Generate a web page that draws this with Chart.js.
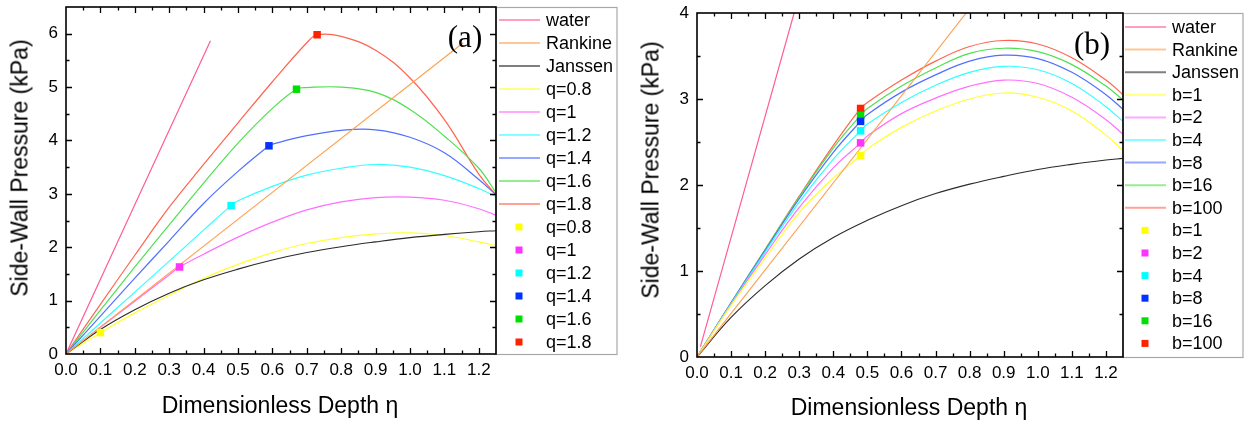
<!DOCTYPE html>
<html>
<head>
<meta charset="utf-8">
<script src="https://cdn.jsdelivr.net/npm/chart.js@4.4.0/dist/chart.umd.min.js"></script>
<style>
  html, body { margin:0; padding:0; background:#fff; }
  body { width:1256px; height:421px; overflow:hidden; position:relative; font-family:"Liberation Sans", Arial, sans-serif; color:#000; }
  .cw { position:absolute; top:0; width:628px; height:421px; }
  #wa { left:0; } #wb { left:628px; }
  .yt { position:absolute; font-size:23px; line-height:1; white-space:nowrap; transform:translate(-50%,-50%) rotate(-90deg); }
  .xt { position:absolute; font-size:23px; line-height:1; white-space:nowrap; transform:translate(-50%,-50%); }
  .pl { position:absolute; font-family:"Liberation Serif","Times New Roman",serif; font-size:31px; line-height:1; white-space:nowrap; transform:translate(-50%,-50%); }
</style>
</head>
<body>
<div class="cw" id="wa"><canvas id="ca" width="628" height="421"></canvas></div>
<div class="cw" id="wb"><canvas id="cb" width="628" height="421"></canvas></div>
<div class="yt" style="left:20px;top:168px;">Side-Wall Pressure (kPa)</div>
<div class="xt" style="left:280px;top:405px;">Dimensionless Depth η</div>
<div class="pl" style="left:465px;top:36px;">(a)</div>
<div class="yt" style="left:651px;top:170px;">Side-Wall Pressure (kPa)</div>
<div class="xt" style="left:909px;top:407px;">Dimensionless Depth η</div>
<div class="pl" style="left:1092px;top:43px;">(b)</div>
<script>
// ---------------- data ----------------
const eta = [0, 0.1, 0.2, 0.3, 0.4, 0.5, 0.6, 0.7, 0.8, 0.9, 1.0, 1.1, 1.2, 1.25];
const janssenP = [0, 0.46, 0.83, 1.14, 1.39, 1.59, 1.76, 1.9, 2.01, 2.1, 2.18, 2.24, 2.29, 2.31];

// panel (a)
const waterEtaA = [0, 0.42];
const waterPA = [0, 5.87];
const rankineEtaA = [0, 1.155];
const rankinePA = [0, 5.83];
const qLabels = ['q=0.8', 'q=1', 'q=1.2', 'q=1.4', 'q=1.6', 'q=1.8'];
const qMarkerEta = [0.1, 0.33, 0.48, 0.59, 0.67, 0.73];
const qMarkerP = [0.4, 1.63, 2.78, 3.9, 4.96, 5.98];
const q08P = [0, 0.4, 0.77, 1.1, 1.42, 1.68, 1.9, 2.07, 2.18, 2.25, 2.27, 2.22, 2.1, 2.03];
const q10P = [0, 0.5, 0.99, 1.48, 1.87, 2.19, 2.47, 2.7, 2.85, 2.93, 2.94, 2.88, 2.72, 2.6];
const q12P = [0, 0.58, 1.16, 1.74, 2.32, 2.87, 3.14, 3.35, 3.48, 3.55, 3.5, 3.34, 3.1, 2.95];
const q14P = [0, 0.71, 1.42, 2.12, 2.82, 3.42, 3.93, 4.09, 4.19, 4.2, 4.06, 3.77, 3.27, 2.98];
const q16P = [0, 0.82, 1.63, 2.42, 3.2, 3.95, 4.6, 4.99, 5.0, 4.9, 4.58, 4.08, 3.48, 3.02];
const q18P = [0, 0.93, 1.85, 2.75, 3.55, 4.33, 5.1, 5.83, 5.95, 5.69, 5.17, 4.39, 3.37, 2.98];
const xTicksA = { min: 0, max: 1.25, step: 0.1 };
const yTicksA = { min: 0, max: 6.5, step: 1 };

// panel (b)
const waterEtaB = [0.01, 0.285];
const waterPB = [0.12, 4.0];
const rankineEtaB = [0, 0.79];
const rankinePB = [0, 4.0];
const bLabels = ['b=1', 'b=2', 'b=4', 'b=8', 'b=16', 'b=100'];
const bMarkerEta = [0.48, 0.48, 0.48, 0.48, 0.48, 0.48];
const bMarkerP = [2.34, 2.49, 2.63, 2.74, 2.81, 2.89];
const b1P   = [0, 0.6, 1.15, 1.68, 2.08, 2.42, 2.67, 2.86, 3.0, 3.07, 3.02, 2.86, 2.58, 2.4];
const b2P   = [0, 0.61, 1.19, 1.74, 2.2, 2.57, 2.83, 3.01, 3.15, 3.22, 3.18, 3.02, 2.76, 2.59];
const b4P   = [0, 0.62, 1.22, 1.8, 2.3, 2.71, 2.96, 3.16, 3.31, 3.38, 3.34, 3.18, 2.91, 2.74];
const b8P   = [0, 0.63, 1.24, 1.84, 2.38, 2.82, 3.08, 3.28, 3.44, 3.51, 3.47, 3.31, 3.05, 2.88];
const b16P  = [0, 0.63, 1.25, 1.86, 2.43, 2.89, 3.15, 3.36, 3.53, 3.59, 3.55, 3.4, 3.15, 2.99];
const b100P = [0, 0.63, 1.25, 1.87, 2.46, 2.96, 3.22, 3.44, 3.61, 3.68, 3.64, 3.48, 3.22, 3.05];
const xTicksB = { min: 0, max: 1.25, step: 0.1 };
const yTicksB = { min: 0, max: 4, step: 1 };

// ---------------- styles ----------------
const lineColors = ['#ffff33', '#ff70ff', '#33ffff', '#5070ff', '#4fe04f', '#ff6450'];
const markColors = ['#ffff00', '#ff33ff', '#00ffff', '#0033ff', '#00e000', '#ff2200'];
const FONT = "'Liberation Sans', Arial, sans-serif";

function pts(xs, ys) { return xs.map((v, i) => ({ x: v, y: ys[i] })); }
function withMarker(xs, ys, mx, my) {
  const p = pts(xs, ys).filter(o => Math.abs(o.x - mx) > 1e-9);
  p.push({ x: mx, y: my });
  p.sort((a, b) => a.x - b.x);
  return p;
}
function lineDs(label, data, color, w) {
  return { label, data, showLine: true, borderColor: color, backgroundColor: color, borderWidth: w || 1.2,
           pointRadius: 0, pointHoverRadius: 0, tension: 0.4, order: 1 };
}
function markDs(label, x, y, color) {
  return { label, data: [{ x, y }], showLine: false, pointStyle: 'rect', pointRadius: 5.3,
           backgroundColor: color, borderColor: color, borderWidth: 0, order: 0 };
}
function buildDatasets(water, rankine, labels, series, mEta, mP) {
  const ds = [
    lineDs('water', water, '#ff5c9a'),
    lineDs('Rankine', rankine, '#ffa050'),
    lineDs('Janssen', pts(eta, janssenP), '#2a2a2a', 1.1)
  ];
  series.forEach((s, i) => ds.push(lineDs(labels[i], withMarker(eta, s, mEta[i], mP[i]), lineColors[i])));
  labels.forEach((l, i) => ds.push(markDs(l, mEta[i], mP[i], markColors[i])));
  return ds;
}

// plugin: boxed frame with inward major/minor ticks + legend box
const panelPlugin = {
  id: 'panel',
  afterDraw(chart, args, o) {
    const { ctx, chartArea: a, scales: { x, y } } = chart;
    ctx.save();
    ctx.strokeStyle = '#a8a8a8'; ctx.lineWidth = 1.2;
    ctx.strokeRect(a.right, a.top + 0.5, o.legendW, a.bottom - a.top);
    const vals = (s) => {
      const major = s.ticks.map(t => t.value);
      const step = major[1] - major[0];
      const minor = [];
      major.forEach(v => { const m = v + step / 2; if (m < s.max - 1e-9) minor.push(m); });
      return { major, minor };
    };
    ctx.strokeStyle = '#000'; ctx.lineWidth = 1.3;
    ctx.beginPath();
    const tx = vals(x), ty = vals(y);
    const doX = (list, L) => list.forEach(v => {
      if (v <= x.min + 1e-9 || v >= x.max - 1e-9) return;
      const p = Math.round(x.getPixelForValue(v)) + 0.5;
      ctx.moveTo(p, a.bottom); ctx.lineTo(p, a.bottom - L);
      ctx.moveTo(p, a.top); ctx.lineTo(p, a.top + L);
    });
    const doY = (list, L) => list.forEach(v => {
      if (v <= y.min + 1e-9 || v >= y.max - 1e-9) return;
      const p = Math.round(y.getPixelForValue(v)) + 0.5;
      ctx.moveTo(a.left, p); ctx.lineTo(a.left + L, p);
      ctx.moveTo(a.right, p); ctx.lineTo(a.right - L, p);
    });
    doX(tx.major, 6); doX(tx.minor, 3.5); doY(ty.major, 6); doY(ty.minor, 3.5);
    ctx.stroke();
    ctx.lineWidth = 1.6;
    ctx.strokeRect(a.left, a.top, a.right - a.left, a.bottom - a.top);
    ctx.font = '18px ' + FONT; ctx.textBaseline = 'middle'; ctx.textAlign = 'left';
    chart.data.datasets.forEach((ds, i) => {
      const yy = a.top + o.firstY + i * o.gap;
      if (ds.showLine) {
        ctx.save(); ctx.globalAlpha = 0.6; ctx.strokeStyle = ds.borderColor; ctx.lineWidth = 2;
        ctx.beginPath(); ctx.moveTo(a.right + o.lx0, yy); ctx.lineTo(a.right + o.lx1, yy); ctx.stroke();
        ctx.restore();
      } else {
        ctx.fillStyle = ds.backgroundColor;
        ctx.fillRect(a.right + o.sqX - 3.5, yy - 3.5, 7, 7);
      }
      ctx.fillStyle = '#000';
      ctx.fillText(ds.label, a.right + o.textX, yy + 1);
    });
    ctx.restore();
  }
};

function makeChart(id, datasets, xt, yt, lay, legend) {
  return new Chart(document.getElementById(id), {
    type: 'scatter',
    data: { datasets },
    plugins: [panelPlugin],
    options: {
      responsive: false, animation: false, devicePixelRatio: 1,
      layout: { autoPadding: false, padding: { left: 0, right: lay.right, top: lay.top, bottom: 0 } },
      plugins: { legend: { display: false }, tooltip: { enabled: false }, panel: legend },
      scales: {
        x: {
          type: 'linear', min: xt.min, max: xt.max,
          grid: { display: false, drawTicks: false }, border: { display: false },
          ticks: { stepSize: xt.step, includeBounds: false, autoSkip: false, maxRotation: 0, padding: 6,
                   color: '#000', font: { family: FONT, size: 17 }, callback: v => Number(v).toFixed(1) },
          afterFit(s) { s.height = lay.xh; s.paddingLeft = 0; s.paddingRight = 0; s.paddingTop = 0; s.paddingBottom = 0; }
        },
        y: {
          type: 'linear', min: yt.min, max: yt.max,
          grid: { display: false, drawTicks: false }, border: { display: false },
          ticks: { stepSize: yt.step, includeBounds: false, padding: 8,
                   color: '#000', font: { family: FONT, size: 17 }, callback: v => String(Math.round(v)) },
          afterFit(s) { s.width = lay.yw; s.paddingLeft = 0; s.paddingRight = 0; s.paddingTop = 0; s.paddingBottom = 0; }
        }
      }
    }
  });
}

makeChart('ca',
  buildDatasets(pts(waterEtaA, waterPA), pts(rankineEtaA, rankinePA), qLabels,
                [q08P, q10P, q12P, q14P, q16P, q18P], qMarkerEta, qMarkerP),
  xTicksA, yTicksA,
  { right: 132, top: 7, xh: 67, yw: 66 },
  { legendW: 121, firstY: 13, gap: 23, lx0: 3, lx1: 44, sqX: 23, textX: 50 });

makeChart('cb',
  buildDatasets(pts(waterEtaB, waterPB), pts(rankineEtaB, rankinePB), bLabels,
                [b1P, b2P, b4P, b8P, b16P, b100P], bMarkerEta, bMarkerP),
  xTicksB, yTicksB,
  { right: 133, top: 13, xh: 64, yw: 69 },
  { legendW: 120, firstY: 14, gap: 22.6, lx0: 2, lx1: 43, sqX: 22, textX: 49 });
</script>
</body>
</html>
